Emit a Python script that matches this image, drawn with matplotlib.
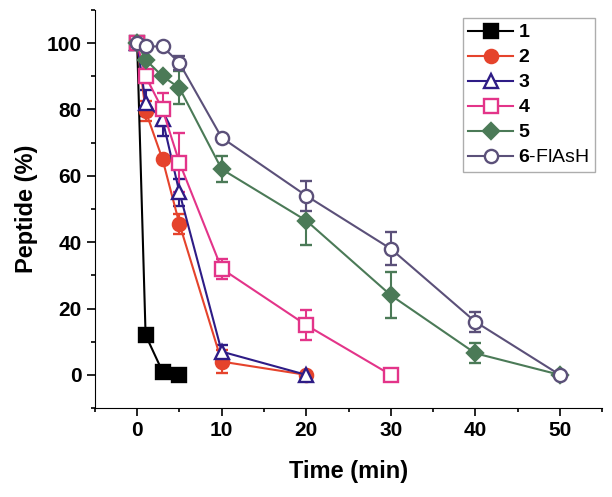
"""
Degradacion de peptidos en el tiempo (recreacion del grafico).
"""
import matplotlib
matplotlib.use('Agg')
import matplotlib.pyplot as plt
from matplotlib.ticker import MultipleLocator

plt.rcParams['font.family'] = ['Liberation Sans', 'DejaVu Sans']
plt.rcParams['mathtext.fontset'] = 'custom'
plt.rcParams['mathtext.bf'] = 'Liberation Sans:bold'
plt.rcParams['mathtext.rm'] = 'Liberation Sans'

# Datos
t1 = [0, 1, 3, 5]
y1 = [100, 12, 1, 0]
e1 = [0, 0, 0, 0]

t2 = [0, 1, 3, 5, 10, 20]
y2 = [100, 79.5, 65, 45.5, 4, 0]
e2 = [0, 3, 0, 3, 3.5, 0]

t3 = [0, 1, 3, 5, 10, 20]
y3 = [100, 82, 77, 55, 7, 0]
e3 = [0, 4, 5, 4, 2, 0]

t4 = [0, 1, 3, 5, 10, 20, 30]
y4 = [100, 90, 80, 64, 32, 15, 0]
e4 = [0, 2, 5, 9, 3, 4.5, 0]

t5 = [0, 1, 3, 5, 10, 20, 30, 40, 50]
y5 = [100, 95, 90, 86.5, 62, 46.5, 24, 6.5, 0]
e5 = [0, 0, 0, 5, 4, 7.5, 7, 3, 0]

t6 = [0, 1, 3, 5, 10, 20, 30, 40, 50]
y6 = [100, 99, 99, 94, 71.5, 54, 38, 16, 0]
e6 = [0, 0, 0, 2, 0, 4.5, 5, 3, 0]

labels = [r'$\mathbf{1}$', r'$\mathbf{2}$', r'$\mathbf{3}$', r'$\mathbf{4}$',
          r'$\mathbf{5}$', r'$\mathbf{6}$-FlAsH']

series = [
    (t1, y1, e1, 'black', 's', 'black'),
    (t2, y2, e2, '#e5432c', 'o', '#e5432c'),
    (t3, y3, e3, '#2e1c86', '^', 'white'),
    (t4, y4, e4, '#e33489', 's', 'white'),
    (t5, y5, e5, '#4b7a57', 'D', '#4b7a57'),
    (t6, y6, e6, '#5b5079', 'o', 'white'),
]

fig = plt.figure(figsize=(6.12, 4.97), dpi=100)
ax = fig.add_axes([0.155, 0.179, 0.829, 0.801])

for (t, y, e, color, marker, face), label in zip(series, labels):
    ms = 8.5 if marker == 'D' else 9.5
    ax.errorbar(t, y, yerr=e, color=color, marker=marker, markersize=ms,
                markerfacecolor=face, markeredgecolor=color,
                markeredgewidth=1.7, linewidth=1.5, capsize=4,
                elinewidth=1.5, capthick=1.5, label=label)

ax.set_xlim(-5, 55)
ax.set_ylim(-10, 110)
ax.xaxis.set_major_locator(MultipleLocator(10))
ax.xaxis.set_minor_locator(MultipleLocator(5))
ax.yaxis.set_major_locator(MultipleLocator(20))
ax.yaxis.set_minor_locator(MultipleLocator(10))
ax.spines['top'].set_visible(False)
ax.spines['right'].set_visible(False)
ax.tick_params(which='major', direction='out', length=6, width=1.2,
               labelsize=15)
ax.tick_params(which='minor', direction='out', length=3, width=1.2)
for lab in ax.get_xticklabels() + ax.get_yticklabels():
    lab.set_fontweight('bold')

ax.set_xlabel('Time (min)', fontsize=17, fontweight='bold', labelpad=14)
ax.set_ylabel('Peptide (%)', fontsize=17, fontweight='bold', labelpad=6)

handles, labs = ax.get_legend_handles_labels()
handles = [h[0] for h in handles]
leg = ax.legend(handles, labs, loc='upper right', bbox_to_anchor=(0.985, 0.98),
                fontsize=14, frameon=True, fancybox=False, handlelength=2.3,
                borderpad=0.3, labelspacing=0.38, handletextpad=0.25,
                borderaxespad=0.0)
leg.get_frame().set_edgecolor('#999999')
leg.get_frame().set_linewidth(1.0)

plt.savefig('out.png', dpi=100)
plt.close()
